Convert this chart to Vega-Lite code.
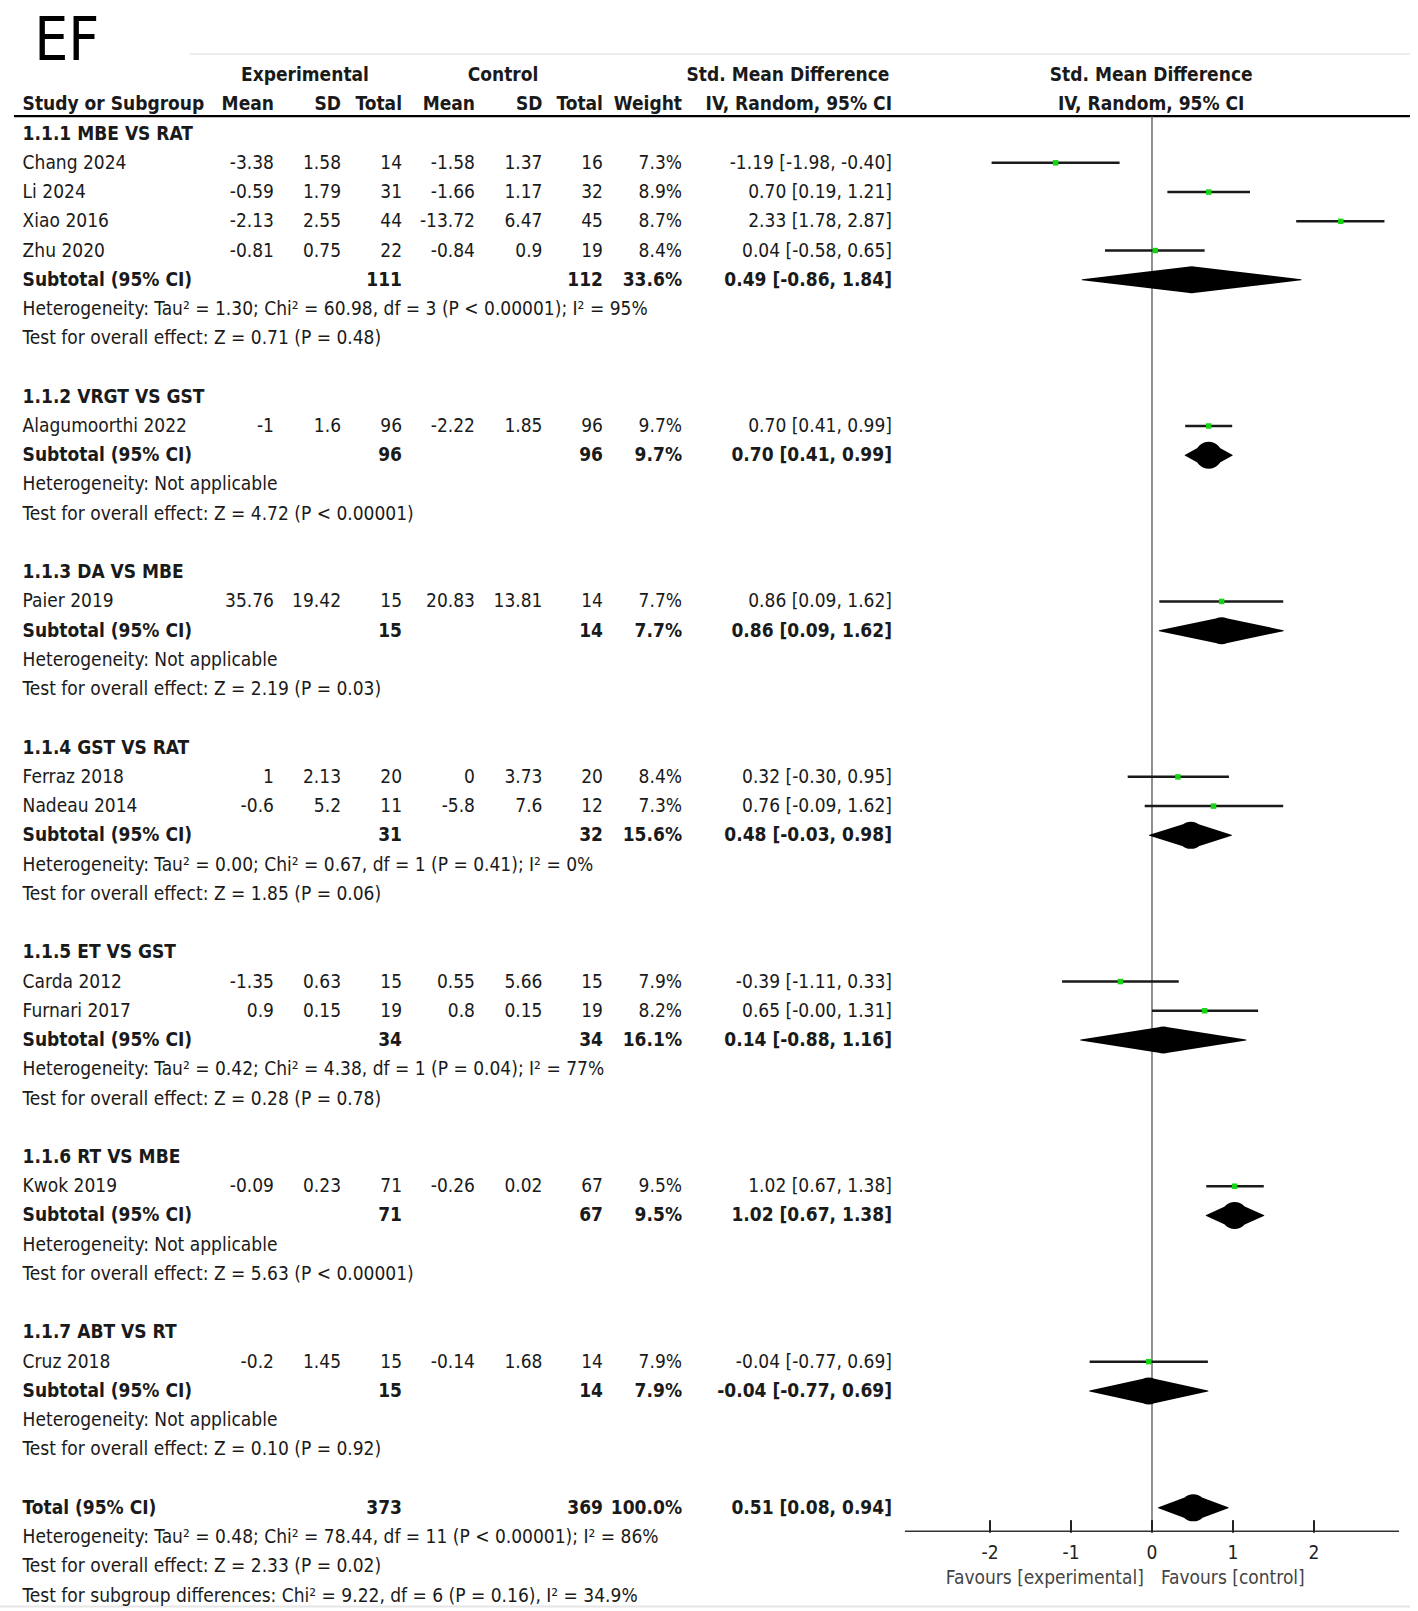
{
  "$schema": "https://vega.github.io/schema/vega-lite/v6.json",
  "width": 1418,
  "height": 1611,
  "padding": 0,
  "autosize": {"type": "none"},
  "background": "white",
  "config": {
    "view": {"stroke": null},
    "axis": {"disable": true},
    "text": {"font": "DejaVu Sans Condensed, Liberation Sans", "fontSize": 19, "color": "#1a1a1a", "baseline": "middle"}
  },
  "datasets": {
    "rows": [
      {"row": 0, "kind": "group", "label": "1.1.1 MBE VS RAT"},
      {"row": 1, "kind": "study", "label": "Chang 2024", "em": -3.38, "esd": 1.58, "en": 14, "cm": -1.58, "csd": 1.37, "cn": 16, "w": "7.3%", "ci": "-1.19 [-1.98, -0.40]", "smd": -1.19, "lo": -1.98, "hi": -0.40},
      {"row": 2, "kind": "study", "label": "Li 2024", "em": -0.59, "esd": 1.79, "en": 31, "cm": -1.66, "csd": 1.17, "cn": 32, "w": "8.9%", "ci": "0.70 [0.19, 1.21]", "smd": 0.70, "lo": 0.19, "hi": 1.21},
      {"row": 3, "kind": "study", "label": "Xiao 2016", "em": -2.13, "esd": 2.55, "en": 44, "cm": -13.72, "csd": 6.47, "cn": 45, "w": "8.7%", "ci": "2.33 [1.78, 2.87]", "smd": 2.33, "lo": 1.78, "hi": 2.87},
      {"row": 4, "kind": "study", "label": "Zhu 2020", "em": -0.81, "esd": 0.75, "en": 22, "cm": -0.84, "csd": 0.9, "cn": 19, "w": "8.4%", "ci": "0.04 [-0.58, 0.65]", "smd": 0.04, "lo": -0.58, "hi": 0.65},
      {"row": 5, "kind": "subtotal", "label": "Subtotal (95% CI)", "en": 111, "cn": 112, "w": "33.6%", "ci": "0.49 [-0.86, 1.84]", "smd": 0.49, "lo": -0.86, "hi": 1.84},
      {"row": 6, "kind": "het", "label": "Heterogeneity: Tau² = 1.30; Chi² = 60.98, df = 3 (P < 0.00001); I² = 95%"},
      {"row": 7, "kind": "test", "label": "Test for overall effect: Z = 0.71 (P = 0.48)"},
      {"row": 9, "kind": "group", "label": "1.1.2 VRGT VS GST"},
      {"row": 10, "kind": "study", "label": "Alagumoorthi 2022", "em": -1, "esd": 1.6, "en": 96, "cm": -2.22, "csd": 1.85, "cn": 96, "w": "9.7%", "ci": "0.70 [0.41, 0.99]", "smd": 0.70, "lo": 0.41, "hi": 0.99},
      {"row": 11, "kind": "subtotal", "label": "Subtotal (95% CI)", "en": 96, "cn": 96, "w": "9.7%", "ci": "0.70 [0.41, 0.99]", "smd": 0.70, "lo": 0.41, "hi": 0.99},
      {"row": 12, "kind": "het", "label": "Heterogeneity: Not applicable"},
      {"row": 13, "kind": "test", "label": "Test for overall effect: Z = 4.72 (P < 0.00001)"},
      {"row": 15, "kind": "group", "label": "1.1.3 DA VS MBE"},
      {"row": 16, "kind": "study", "label": "Paier 2019", "em": 35.76, "esd": 19.42, "en": 15, "cm": 20.83, "csd": 13.81, "cn": 14, "w": "7.7%", "ci": "0.86 [0.09, 1.62]", "smd": 0.86, "lo": 0.09, "hi": 1.62},
      {"row": 17, "kind": "subtotal", "label": "Subtotal (95% CI)", "en": 15, "cn": 14, "w": "7.7%", "ci": "0.86 [0.09, 1.62]", "smd": 0.86, "lo": 0.09, "hi": 1.62},
      {"row": 18, "kind": "het", "label": "Heterogeneity: Not applicable"},
      {"row": 19, "kind": "test", "label": "Test for overall effect: Z = 2.19 (P = 0.03)"},
      {"row": 21, "kind": "group", "label": "1.1.4 GST VS RAT"},
      {"row": 22, "kind": "study", "label": "Ferraz 2018", "em": 1, "esd": 2.13, "en": 20, "cm": 0, "csd": 3.73, "cn": 20, "w": "8.4%", "ci": "0.32 [-0.30, 0.95]", "smd": 0.32, "lo": -0.30, "hi": 0.95},
      {"row": 23, "kind": "study", "label": "Nadeau 2014", "em": -0.6, "esd": 5.2, "en": 11, "cm": -5.8, "csd": 7.6, "cn": 12, "w": "7.3%", "ci": "0.76 [-0.09, 1.62]", "smd": 0.76, "lo": -0.09, "hi": 1.62},
      {"row": 24, "kind": "subtotal", "label": "Subtotal (95% CI)", "en": 31, "cn": 32, "w": "15.6%", "ci": "0.48 [-0.03, 0.98]", "smd": 0.48, "lo": -0.03, "hi": 0.98},
      {"row": 25, "kind": "het", "label": "Heterogeneity: Tau² = 0.00; Chi² = 0.67, df = 1 (P = 0.41); I² = 0%"},
      {"row": 26, "kind": "test", "label": "Test for overall effect: Z = 1.85 (P = 0.06)"},
      {"row": 28, "kind": "group", "label": "1.1.5 ET VS GST"},
      {"row": 29, "kind": "study", "label": "Carda 2012", "em": -1.35, "esd": 0.63, "en": 15, "cm": 0.55, "csd": 5.66, "cn": 15, "w": "7.9%", "ci": "-0.39 [-1.11, 0.33]", "smd": -0.39, "lo": -1.11, "hi": 0.33},
      {"row": 30, "kind": "study", "label": "Furnari 2017", "em": 0.9, "esd": 0.15, "en": 19, "cm": 0.8, "csd": 0.15, "cn": 19, "w": "8.2%", "ci": "0.65 [-0.00, 1.31]", "smd": 0.65, "lo": -0.00, "hi": 1.31},
      {"row": 31, "kind": "subtotal", "label": "Subtotal (95% CI)", "en": 34, "cn": 34, "w": "16.1%", "ci": "0.14 [-0.88, 1.16]", "smd": 0.14, "lo": -0.88, "hi": 1.16},
      {"row": 32, "kind": "het", "label": "Heterogeneity: Tau² = 0.42; Chi² = 4.38, df = 1 (P = 0.04); I² = 77%"},
      {"row": 33, "kind": "test", "label": "Test for overall effect: Z = 0.28 (P = 0.78)"},
      {"row": 35, "kind": "group", "label": "1.1.6 RT VS MBE"},
      {"row": 36, "kind": "study", "label": "Kwok 2019", "em": -0.09, "esd": 0.23, "en": 71, "cm": -0.26, "csd": 0.02, "cn": 67, "w": "9.5%", "ci": "1.02 [0.67, 1.38]", "smd": 1.02, "lo": 0.67, "hi": 1.38},
      {"row": 37, "kind": "subtotal", "label": "Subtotal (95% CI)", "en": 71, "cn": 67, "w": "9.5%", "ci": "1.02 [0.67, 1.38]", "smd": 1.02, "lo": 0.67, "hi": 1.38},
      {"row": 38, "kind": "het", "label": "Heterogeneity: Not applicable"},
      {"row": 39, "kind": "test", "label": "Test for overall effect: Z = 5.63 (P < 0.00001)"},
      {"row": 41, "kind": "group", "label": "1.1.7 ABT VS RT"},
      {"row": 42, "kind": "study", "label": "Cruz 2018", "em": -0.2, "esd": 1.45, "en": 15, "cm": -0.14, "csd": 1.68, "cn": 14, "w": "7.9%", "ci": "-0.04 [-0.77, 0.69]", "smd": -0.04, "lo": -0.77, "hi": 0.69},
      {"row": 43, "kind": "subtotal", "label": "Subtotal (95% CI)", "en": 15, "cn": 14, "w": "7.9%", "ci": "-0.04 [-0.77, 0.69]", "smd": -0.04, "lo": -0.77, "hi": 0.69},
      {"row": 44, "kind": "het", "label": "Heterogeneity: Not applicable"},
      {"row": 45, "kind": "test", "label": "Test for overall effect: Z = 0.10 (P = 0.92)"},
      {"row": 47, "kind": "total", "label": "Total (95% CI)", "en": 373, "cn": 369, "w": "100.0%", "ci": "0.51 [0.08, 0.94]", "smd": 0.51, "lo": 0.08, "hi": 0.94},
      {"row": 48, "kind": "het", "label": "Heterogeneity: Tau² = 0.48; Chi² = 78.44, df = 11 (P < 0.00001); I² = 86%"},
      {"row": 49, "kind": "test", "label": "Test for overall effect: Z = 2.33 (P = 0.02)"},
      {"row": 50, "kind": "test", "label": "Test for subgroup differences: Chi² = 9.22, df = 6 (P = 0.16), I² = 34.9%"}
    ],
    "ticks": [{"t": -2}, {"t": -1}, {"t": 0}, {"t": 1}, {"t": 2}],
    "one": [{"id": 1}]
  },
  "data": {"name": "rows"},
  "layer": [
    {"data": {"name": "one"}, "mark": {"type": "text", "text": "EF", "font": "DejaVu Sans Condensed, Noto Sans", "fontSize": 60, "align": "left", "baseline": "alphabetic", "color": "#000"},
     "encoding": {"x": {"datum": -13.80, "type": "quantitative", "scale": {"domain": [-14.222, 3.284], "nice": false, "zero": false}, "axis": null},
                  "y": {"datum": -2.53, "type": "quantitative", "scale": {"domain": [-4.569, 50.527], "reverse": true, "nice": false, "zero": false}, "axis": null}}},
    {"data": {"name": "one"}, "mark": {"type": "rule", "color": "#ececec", "strokeWidth": 2},
     "encoding": {"x": {"datum": -11.88, "type": "quantitative"}, "x2": {"datum": 3.185}, "y": {"datum": -2.72, "type": "quantitative"}}},
    {"data": {"name": "one"}, "mark": {"type": "rule", "color": "#000", "strokeWidth": 2.2},
     "encoding": {"x": {"datum": -14.05, "type": "quantitative"}, "x2": {"datum": 3.185}, "y": {"datum": -0.6, "type": "quantitative"}}},
    {"data": {"name": "one"}, "mark": {"type": "rule", "color": "#e6e6e6", "strokeWidth": 2},
     "encoding": {"x": {"datum": -14.222, "type": "quantitative"}, "x2": {"datum": 3.185}, "y": {"datum": 50.37, "type": "quantitative"}}},
    {"data": {"name": "one"}, "mark": {"type": "rule", "color": "#555", "strokeWidth": 1.3},
     "encoding": {"x": {"datum": 0, "type": "quantitative"}, "y": {"datum": -0.6, "type": "quantitative"}, "y2": {"datum": 47.8}}},
    {"data": {"name": "one"}, "mark": {"type": "rule", "color": "#333", "strokeWidth": 1.5},
     "encoding": {"x": {"datum": -3.05, "type": "quantitative"}, "x2": {"datum": 3.05}, "y": {"datum": 47.8, "type": "quantitative"}}},
    {"data": {"name": "ticks"}, "mark": {"type": "rule", "color": "#222", "strokeWidth": 2},
     "encoding": {"x": {"field": "t", "type": "quantitative"}, "y": {"datum": 47.42, "type": "quantitative"}, "y2": {"datum": 47.85}}},
    {"data": {"name": "ticks"}, "mark": {"type": "text", "align": "center", "color": "#222", "fontSize": 19},
     "encoding": {"x": {"field": "t", "type": "quantitative"}, "y": {"datum": 48.55, "type": "quantitative"}, "text": {"field": "t", "type": "nominal"}}},
    {"data": {"name": "one"}, "mark": {"type": "text", "text": "Favours [experimental]", "align": "right", "color": "#444", "fontSize": 19},
     "encoding": {"x": {"datum": -0.1, "type": "quantitative"}, "y": {"datum": 49.4, "type": "quantitative"}}},
    {"data": {"name": "one"}, "mark": {"type": "text", "text": "Favours [control]", "align": "left", "color": "#444", "fontSize": 19},
     "encoding": {"x": {"datum": 0.11, "type": "quantitative"}, "y": {"datum": 49.4, "type": "quantitative"}}},

    {"data": {"name": "one"}, "mark": {"type": "text", "text": "Experimental", "align": "center", "fontWeight": "bold"},
     "encoding": {"x": {"datum": -10.457, "type": "quantitative"}, "y": {"datum": -2, "type": "quantitative"}}},
    {"data": {"name": "one"}, "mark": {"type": "text", "text": "Control", "align": "center", "fontWeight": "bold"},
     "encoding": {"x": {"datum": -8.012, "type": "quantitative"}, "y": {"datum": -2, "type": "quantitative"}}},
    {"data": {"name": "one"}, "mark": {"type": "text", "text": "Std. Mean Difference", "align": "center", "fontWeight": "bold"},
     "encoding": {"x": {"datum": -4.494, "type": "quantitative"}, "y": {"datum": -2, "type": "quantitative"}}},
    {"data": {"name": "one"}, "mark": {"type": "text", "text": "Std. Mean Difference", "align": "center", "fontWeight": "bold"},
     "encoding": {"x": {"datum": -0.01, "type": "quantitative"}, "y": {"datum": -2, "type": "quantitative"}}},
    {"data": {"name": "one"}, "mark": {"type": "text", "text": "Study or Subgroup", "align": "left", "fontWeight": "bold"},
     "encoding": {"x": {"datum": -13.943, "type": "quantitative"}, "y": {"datum": -1, "type": "quantitative"}}},
    {"data": {"name": "one"}, "mark": {"type": "text", "text": "Mean", "align": "right", "fontWeight": "bold"},
     "encoding": {"x": {"datum": -10.84, "type": "quantitative"}, "y": {"datum": -1, "type": "quantitative"}}},
    {"data": {"name": "one"}, "mark": {"type": "text", "text": "SD", "align": "right", "fontWeight": "bold"},
     "encoding": {"x": {"datum": -10.012, "type": "quantitative"}, "y": {"datum": -1, "type": "quantitative"}}},
    {"data": {"name": "one"}, "mark": {"type": "text", "text": "Total", "align": "right", "fontWeight": "bold"},
     "encoding": {"x": {"datum": -9.259, "type": "quantitative"}, "y": {"datum": -1, "type": "quantitative"}}},
    {"data": {"name": "one"}, "mark": {"type": "text", "text": "Mean", "align": "right", "fontWeight": "bold"},
     "encoding": {"x": {"datum": -8.358, "type": "quantitative"}, "y": {"datum": -1, "type": "quantitative"}}},
    {"data": {"name": "one"}, "mark": {"type": "text", "text": "SD", "align": "right", "fontWeight": "bold"},
     "encoding": {"x": {"datum": -7.525, "type": "quantitative"}, "y": {"datum": -1, "type": "quantitative"}}},
    {"data": {"name": "one"}, "mark": {"type": "text", "text": "Total", "align": "right", "fontWeight": "bold"},
     "encoding": {"x": {"datum": -6.778, "type": "quantitative"}, "y": {"datum": -1, "type": "quantitative"}}},
    {"data": {"name": "one"}, "mark": {"type": "text", "text": "Weight", "align": "right", "fontWeight": "bold"},
     "encoding": {"x": {"datum": -5.802, "type": "quantitative"}, "y": {"datum": -1, "type": "quantitative"}}},
    {"data": {"name": "one"}, "mark": {"type": "text", "text": "IV, Random, 95% CI", "align": "right", "fontWeight": "bold"},
     "encoding": {"x": {"datum": -3.21, "type": "quantitative"}, "y": {"datum": -1, "type": "quantitative"}}},
    {"data": {"name": "one"}, "mark": {"type": "text", "text": "IV, Random, 95% CI", "align": "center", "fontWeight": "bold"},
     "encoding": {"x": {"datum": -0.01, "type": "quantitative"}, "y": {"datum": -1, "type": "quantitative"}}},

    {"transform": [{"filter": "datum.kind === 'study' || datum.kind === 'het' || datum.kind === 'test'"}],
     "mark": {"type": "text", "align": "left"},
     "encoding": {"x": {"datum": -13.943, "type": "quantitative"}, "y": {"field": "row", "type": "quantitative"}, "text": {"field": "label", "type": "nominal"}}},
    {"transform": [{"filter": "datum.kind === 'group' || datum.kind === 'subtotal' || datum.kind === 'total'"}],
     "mark": {"type": "text", "align": "left", "fontWeight": "bold"},
     "encoding": {"x": {"datum": -13.943, "type": "quantitative"}, "y": {"field": "row", "type": "quantitative"}, "text": {"field": "label", "type": "nominal"}}},

    {"transform": [{"filter": "datum.kind === 'study'"}], "mark": {"type": "text", "align": "right"},
     "encoding": {"x": {"datum": -10.84, "type": "quantitative"}, "y": {"field": "row", "type": "quantitative"}, "text": {"field": "em", "type": "nominal"}}},
    {"transform": [{"filter": "datum.kind === 'study'"}], "mark": {"type": "text", "align": "right"},
     "encoding": {"x": {"datum": -10.012, "type": "quantitative"}, "y": {"field": "row", "type": "quantitative"}, "text": {"field": "esd", "type": "nominal"}}},
    {"transform": [{"filter": "datum.kind === 'study'"}], "mark": {"type": "text", "align": "right"},
     "encoding": {"x": {"datum": -9.259, "type": "quantitative"}, "y": {"field": "row", "type": "quantitative"}, "text": {"field": "en", "type": "nominal"}}},
    {"transform": [{"filter": "datum.kind === 'study'"}], "mark": {"type": "text", "align": "right"},
     "encoding": {"x": {"datum": -8.358, "type": "quantitative"}, "y": {"field": "row", "type": "quantitative"}, "text": {"field": "cm", "type": "nominal"}}},
    {"transform": [{"filter": "datum.kind === 'study'"}], "mark": {"type": "text", "align": "right"},
     "encoding": {"x": {"datum": -7.525, "type": "quantitative"}, "y": {"field": "row", "type": "quantitative"}, "text": {"field": "csd", "type": "nominal"}}},
    {"transform": [{"filter": "datum.kind === 'study'"}], "mark": {"type": "text", "align": "right"},
     "encoding": {"x": {"datum": -6.778, "type": "quantitative"}, "y": {"field": "row", "type": "quantitative"}, "text": {"field": "cn", "type": "nominal"}}},
    {"transform": [{"filter": "datum.kind === 'study'"}], "mark": {"type": "text", "align": "right"},
     "encoding": {"x": {"datum": -5.802, "type": "quantitative"}, "y": {"field": "row", "type": "quantitative"}, "text": {"field": "w", "type": "nominal"}}},
    {"transform": [{"filter": "datum.kind === 'study'"}], "mark": {"type": "text", "align": "right"},
     "encoding": {"x": {"datum": -3.21, "type": "quantitative"}, "y": {"field": "row", "type": "quantitative"}, "text": {"field": "ci", "type": "nominal"}}},

    {"transform": [{"filter": "datum.kind === 'subtotal' || datum.kind === 'total'"}], "mark": {"type": "text", "align": "right", "fontWeight": "bold"},
     "encoding": {"x": {"datum": -9.259, "type": "quantitative"}, "y": {"field": "row", "type": "quantitative"}, "text": {"field": "en", "type": "nominal"}}},
    {"transform": [{"filter": "datum.kind === 'subtotal' || datum.kind === 'total'"}], "mark": {"type": "text", "align": "right", "fontWeight": "bold"},
     "encoding": {"x": {"datum": -6.778, "type": "quantitative"}, "y": {"field": "row", "type": "quantitative"}, "text": {"field": "cn", "type": "nominal"}}},
    {"transform": [{"filter": "datum.kind === 'subtotal' || datum.kind === 'total'"}], "mark": {"type": "text", "align": "right", "fontWeight": "bold"},
     "encoding": {"x": {"datum": -5.802, "type": "quantitative"}, "y": {"field": "row", "type": "quantitative"}, "text": {"field": "w", "type": "nominal"}}},
    {"transform": [{"filter": "datum.kind === 'subtotal' || datum.kind === 'total'"}], "mark": {"type": "text", "align": "right", "fontWeight": "bold"},
     "encoding": {"x": {"datum": -3.21, "type": "quantitative"}, "y": {"field": "row", "type": "quantitative"}, "text": {"field": "ci", "type": "nominal"}}},

    {"transform": [{"filter": "datum.kind === 'study'"}], "mark": {"type": "rule", "color": "#1a1a1a", "strokeWidth": 2.5},
     "encoding": {"x": {"field": "lo", "type": "quantitative"}, "x2": {"field": "hi"}, "y": {"field": "row", "type": "quantitative"}}},
    {"transform": [{"filter": "datum.kind === 'study'"}], "mark": {"type": "square", "color": "#14d414", "opacity": 1, "size": 30},
     "encoding": {"x": {"field": "smd", "type": "quantitative"}, "y": {"field": "row", "type": "quantitative"}}},
    {"transform": [{"filter": "datum.kind === 'subtotal' || datum.kind === 'total'"}, {"fold": ["lo", "smd", "hi"], "as": ["key", "val"]}],
     "mark": {"type": "trail", "color": "#000"},
     "encoding": {
       "x": {"field": "val", "type": "quantitative"},
       "y": {"field": "row", "type": "quantitative"},
       "detail": {"field": "row", "type": "nominal"},
       "order": {"field": "val", "type": "quantitative"},
       "size": {"condition": {"test": "datum.key === 'smd'", "value": 27}, "value": 0}
     }}
  ]
}
